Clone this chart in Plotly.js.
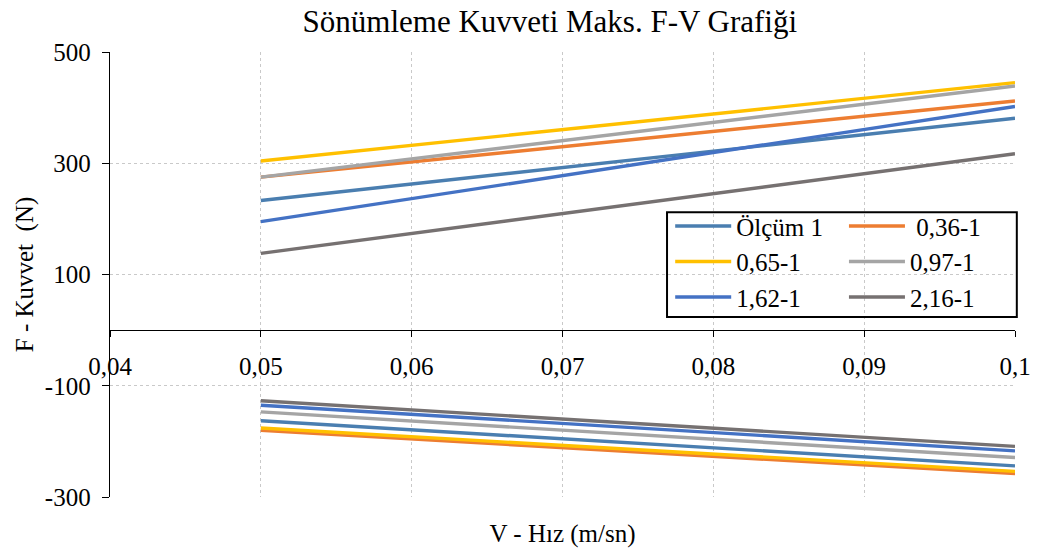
<!DOCTYPE html>
<html>
<head>
<meta charset="utf-8">
<script src="https://cdn.plot.ly/plotly-3.0.1.min.js"></script>
<style>html,body{margin:0;padding:0;background:#fff;}#chart{width:1039px;height:550px;}</style>
</head>
<body>
<div id="chart"></div>
<script>
// Velocity (m/sn)
const velocity = [0.05, 0.1];
// Series names
const seriesNames = ["Ölçüm 1", " 0,36-1", "0,65-1", "0,97-1", "1,62-1", "2,16-1"];
// Maximum force, compression side (positive) at velocity points
const posOlcum1 = [233, 381];
const pos036 = [275, 412];
const pos065 = [304, 445];
const pos097 = [275, 439];
const pos162 = [195, 402];
const pos216 = [138, 317];
// Maximum force, rebound side (negative) at velocity points
const negOlcum1 = [-163, -244];
const neg036 = [-180, -258];
const neg065 = [-176, -254];
const neg097 = [-147, -229];
const neg162 = [-135, -217];
const neg216 = [-127, -209];
// Tick labels
const xTickVals = [0.04, 0.05, 0.06, 0.07, 0.08, 0.09, 0.1];
const xTickText = ["0,04", "0,05", "0,06", "0,07", "0,08", "0,09", "0,1"];
const yTickVals = [-300, -100, 100, 300, 500];
const yTickText = ["-300", "-100", "100", "300", "500"];

const colors = ["#4A7EB0", "#ED7D31", "#FFC000", "#A5A5A5", "#4472C4", "#767171"];
const posAll = [posOlcum1, pos036, pos065, pos097, pos162, pos216];
const negAll = [negOlcum1, neg036, neg065, neg097, neg162, neg216];
const legendOf = ["legend", "legend2", "legend", "legend2", "legend", "legend2"];

const FONT = "Liberation Serif";

const traces = seriesNames.map((name, i) => ({
  type: "scatter",
  mode: "lines",
  name: name,
  x: velocity.concat([null]).concat(velocity),
  y: posAll[i].concat([null]).concat(negAll[i]),
  connectgaps: false,
  line: {color: colors[i], width: 3.4},
  legend: legendOf[i],
  hoverinfo: "x+y+name"
}));

const legendCommon = {
  orientation: "v",
  bgcolor: "rgba(255,255,255,0)",
  borderwidth: 0,
  font: {family: FONT, size: 25, color: "#000"},
  itemwidth: 56,
  tracegroupgap: 0,
  xanchor: "left",
  yanchor: "top",
  traceorder: "normal"
};

const layout = {
  width: 1039,
  height: 550,
  paper_bgcolor: "#fff",
  plot_bgcolor: "#fff",
  separators: ", ",
  margin: {l: 110, r: 24, t: 52, b: 53, pad: 0},
  font: {family: FONT, size: 25, color: "#000"},
  title: {
    text: "Sönümleme Kuvveti Maks. F-V Grafiği",
    font: {family: FONT, size: 31, color: "#000"},
    x: 0.486, xanchor: "center", xref: "paper",
    y: 0.962, yanchor: "middle"
  },
  showlegend: true,
  xaxis: {
    range: [0.04, 0.1],
    tickvals: xTickVals,
    ticktext: xTickText,
    showticklabels: false,
    ticks: "",
    showgrid: true,
    gridcolor: "#c9c9c9",
    griddash: "dot",
    gridwidth: 1,
    zeroline: false,
    showline: false,
    title: {text: "V - Hız (m/sn)", font: {family: FONT, size: 25, color: "#000"}, standoff: 27}
  },
  xaxis2: {
    overlaying: "x",
    matches: "x",
    range: [0.04, 0.1],
    anchor: "free",
    position: 0.375,
    side: "bottom",
    tickvals: xTickVals,
    ticktext: xTickText,
    ticks: "outside",
    ticklen: 6,
    ticklabelstandoff: 8,
    tickcolor: "#000",
    tickwidth: 1,
    showline: true,
    linecolor: "#000",
    linewidth: 1.3,
    showgrid: false,
    zeroline: false,
    tickfont: {family: FONT, size: 25, color: "#000"}
  },
  yaxis: {
    range: [-300, 500],
    tickvals: yTickVals,
    ticktext: yTickText,
    ticks: "outside",
    ticklen: 7,
    ticklabelstandoff: 6,
    tickcolor: "#000",
    showline: true,
    linecolor: "#000",
    linewidth: 1.3,
    showgrid: true,
    gridcolor: "#c9c9c9",
    griddash: "dot",
    zeroline: false,
    tickfont: {family: FONT, size: 25, color: "#000"},
    title: {text: "F - Kuvvet  (N)", font: {family: FONT, size: 25, color: "#000"}, standoff: 4}
  },
  legend: Object.assign({}, legendCommon, {x: 0.619, y: 0.66}),
  legend2: Object.assign({}, legendCommon, {x: 0.811, y: 0.66}),
  shapes: [{
    type: "rect", xref: "paper", yref: "paper",
    x0: 0.6155, x1: 1.002, y0: 0.4045, y1: 0.640,
    line: {color: "#000", width: 2}, fillcolor: "rgba(0,0,0,0)", layer: "above"
  }]
};

// dummy trace to activate xaxis2
traces.push({type: "scatter", x: [0.04], y: [null], xaxis: "x2", yaxis: "y", showlegend: false, hoverinfo: "skip"});

Plotly.newPlot("chart", traces, layout, {displayModeBar: false, staticPlot: true});
</script>
</body>
</html>
